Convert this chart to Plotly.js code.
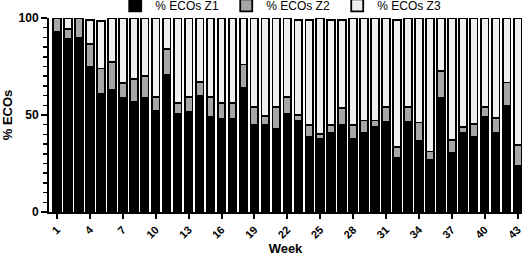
<!DOCTYPE html>
<html>
<head>
<meta charset="utf-8">
<script src="https://cdn.plot.ly/plotly-3.0.1.min.js"></script>
<style>html,body{margin:0;padding:0;background:#fff;}#chart{width:526px;height:256px;}</style>
</head>
<body>
<div id="chart"></div>
<script>
const weeks = Array.from({length: 43}, (_, i) => i + 1);
const z1 = [93, 89, 90, 75, 61, 63, 59, 57, 58.7, 52, 70.7, 50.6, 51.8, 60, 49, 47.8, 47.8, 64, 45, 45, 42.7, 50.6, 46.8, 38.9, 37.9, 41, 45, 37.5, 41, 43.7, 46.6, 27.7, 46.6, 36.8, 26.9, 58.7, 30.6, 41, 38.9, 48.9, 41, 54.7, 23.8];
const z2 = [7, 5.5, 10, 11.5, 13, 14.5, 7.5, 11.5, 11.5, 7.4, 13.5, 5.5, 7.4, 7, 10.3, 8.3, 8.3, 12, 9, 4.3, 11.3, 8.6, 3.3, 6, 2.2, 4, 8.6, 7.4, 6.2, 3.5, 7.4, 5.7, 7.4, 9.3, 4.3, 13.8, 6.6, 2.7, 6.5, 5.1, 7.4, 12.1, 10.8];
const z3 = [0, 5.5, 0, 12.3, 24.5, 22.5, 33.5, 31.5, 29.8, 40.6, 15.8, 43.9, 40.8, 33, 40.7, 43.9, 43.9, 24, 46, 50.7, 46, 40.8, 48.7, 53.9, 59.9, 53.9, 45.3, 55, 52.8, 52.8, 46, 65.4, 46, 53.9, 68.8, 27.5, 62.8, 56.3, 54.6, 46, 51.6, 33.2, 65.4];
const tickWeeks = [1, 4, 7, 10, 13, 16, 19, 22, 25, 28, 31, 34, 37, 40, 43];
const seriesNames = ['% ECOs Z1', '% ECOs Z2', '% ECOs Z3'];
const seriesColors = ['#000000', '#a6a6a6', '#efefef'];

const font = {family: 'Liberation Sans, Arial, Helvetica, sans-serif', color: '#000'};
const traces = [z1, z2, z3].map((vals, i) => ({
  type: 'bar', x: weeks, y: vals, name: seriesNames[i],
  marker: {color: seriesColors[i], line: {color: '#000', width: 1.8}},
  hoverinfo: 'skip'
}));

const layout = {
  width: 526, height: 256,
  margin: {l: 49, r: 4, t: 18, b: 44, pad: 0, autoexpand: false},
  barmode: 'stack', bargap: 0.3,
  paper_bgcolor: '#fff', plot_bgcolor: '#fff',
  font: Object.assign({size: 11}, font),
  showlegend: true,
  legend: {orientation: 'h', x: 0.14, xanchor: 'left', y: 1.065, yanchor: 'middle',
    font: Object.assign({size: 12}, font), entrywidth: 66, entrywidthmode: 'pixels',
    itemwidth: 30, bgcolor: 'rgba(0,0,0,0)', traceorder: 'normal'},
  xaxis: {
    range: [0.27, 43.4], tickmode: 'array', tickvals: tickWeeks, ticktext: tickWeeks.map(String),
    tickangle: -45, ticks: 'outside', ticklen: 5, tickwidth: 2, tickcolor: '#000',
    showline: true, linecolor: '#000', linewidth: 2, showgrid: false, zeroline: false,
    tickfont: Object.assign({size: 11, weight: 'bold'}, font),
    title: {text: '<b>Week</b>', font: Object.assign({size: 13}, font), standoff: 6}
  },
  yaxis: {
    range: [0, 100], tickvals: [0, 50, 100], ticks: 'outside', ticklen: 6, tickwidth: 2, tickcolor: '#000',
    minor: {dtick: 5, ticks: 'outside', ticklen: 4, tickwidth: 1.5, tickcolor: '#000', showgrid: false},
    showline: true, linecolor: '#000', linewidth: 2, showgrid: false, zeroline: false,
    tickfont: Object.assign({size: 12, weight: 'bold'}, font),
    title: {text: '<b>% ECOs</b>', font: Object.assign({size: 13}, font), standoff: 8}
  }
};

Plotly.newPlot('chart', traces, layout, {displayModeBar: false, staticPlot: true});
</script>
</body>
</html>
